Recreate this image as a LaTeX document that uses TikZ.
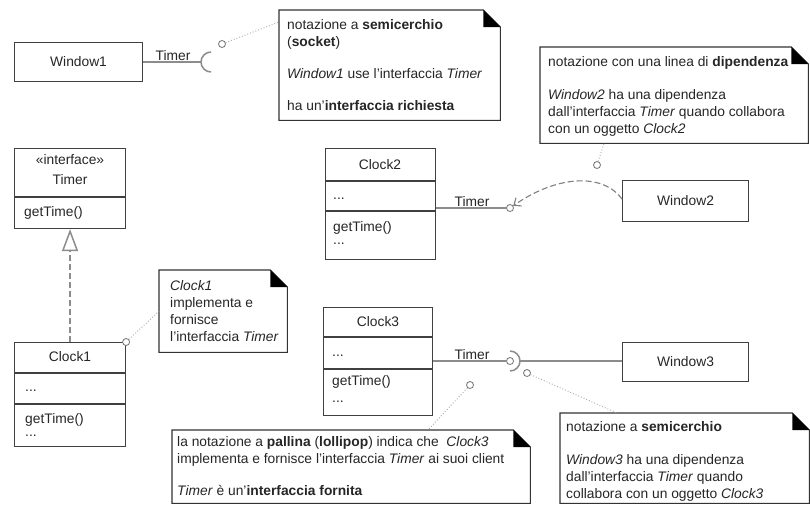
\documentclass[tikz,border=0pt]{standalone}
\usepackage{fontspec}
\setmainfont{Liberation Sans}
\usetikzlibrary{arrows.meta}
\newcommand\umlnotedraw[1]{%
  \draw[noteline] (#1.south west) -- (#1.north west) -- ([xshift=-17pt]#1.north east)
    -- ([yshift=-17pt]#1.north east) -- (#1.south east) -- cycle;
  \fill[black] ([xshift=-17pt]#1.north east) -- ([xshift=-17pt,yshift=-17pt]#1.north east)
    -- ([yshift=-17pt]#1.north east) -- cycle;}
\begin{document}
\begin{tikzpicture}[x=1pt,y=-1pt,
  every node/.style={font=\fontsize{13.8}{17}\selectfont, text=black!85, inner sep=0pt},
  box/.style={draw=black!75, line width=1.1pt, fill=white, anchor=north west},
  conn/.style={draw=black!45, line width=1.5pt},
  depconn/.style={draw=black!50, line width=1.1pt, dash pattern=on 6pt off 3pt},
  dotconn/.style={draw=black!35, line width=0.9pt, dotted},
  pin/.style={circle, draw=black!55, fill=white, line width=0.8pt, minimum size=7pt, inner sep=0pt},
  notebox/.style={anchor=north west, draw=none},
  noteline/.style={draw=black!80, line width=1.1pt, fill=white},
  notetext/.style={anchor=north west, align=left},
  divider/.style={draw=black!75, line width=1.1pt},
]
\fill[white] (0,0) rectangle (810,515);
\useasboundingbox (0,0) rectangle (810,515);

% ---------- Window1 with socket ----------
\node[box, minimum width=128pt, minimum height=39pt] (w1) at (14,42) {Window1};
\coordinate (s1) at (211,62);
\draw[conn] (w1.east |- s1) -- ([xshift=-10pt]s1);
\draw[conn] ([yshift=10pt]s1) arc[start angle=90, end angle=270, radius=10pt];
\node[anchor=base] (t1) at (173,60) {Timer};
\node[pin] (p0) at (222,44) {};

% note 1
\node[notebox, minimum width=221pt, minimum height=110pt] (n1) at (279,10) {};
\umlnotedraw{n1}
\node[notetext] (n1t) at (287,19) {notazione a \textbf{semicerchio}\\ (\textbf{socket})\\[15pt] \textit{Window1} use l'interfaccia \textit{Timer}\\[15pt] ha un'\textbf{interfaccia richiesta}};
\draw[dotconn] (p0) -- ([yshift=-12pt]n1.north west);

% ---------- Interface Timer ----------
\node[box, minimum width=111pt, minimum height=80pt] (ti) at (14,148) {};
\draw[divider] ([yshift=-49pt]ti.north west) -- ([yshift=-49pt]ti.north east);
\node (tist) at (70,160) {«interface»};
\node (tin) at (70,180) {Timer};
\node[anchor=west] (tiop) at (24,213) {getTime()};

% ---------- Clock1 ----------
\node[box, minimum width=111pt, minimum height=104pt] (c1) at (14,342) {};
\draw[divider] ([yshift=-31pt]c1.north west) -- ([yshift=-31pt]c1.north east);
\draw[divider] ([yshift=-62pt]c1.north west) -- ([yshift=-62pt]c1.north east);
\node (c1n) at (70,357) {Clock1};
\node[anchor=west] (c1a) at (25,391) {...};
\node[anchor=west] (c1o) at (25,420) {getTime()};
\node[anchor=west] (c1b) at (25,436) {...};
\draw[conn, dash pattern=on 6pt off 3pt, -{Triangle[open, length=22pt, width=16pt, fill=white]}] (c1.north) -- (ti.south);

% note 3
\node[pin] (p1) at (c1.north east) {};
\node[notebox, minimum width=128pt, minimum height=82pt] (n3) at (159,270) {};
\umlnotedraw{n3}
\node[notetext] (n3t) at (170,280) {\textit{Clock1}\\ implementa e\\ fornisce\\ l'interfaccia \textit{Timer}};
\draw[dotconn] (p1) -- (n3.west);

% ---------- Clock2 / Window2 ----------
\node[box, minimum width=110pt, minimum height=111pt] (c2) at (325,148) {};
\draw[divider] ([yshift=-33pt]c2.north west) -- ([yshift=-33pt]c2.north east);
\draw[divider] ([yshift=-63pt]c2.north west) -- ([yshift=-63pt]c2.north east);
\node (c2n) at (380,165) {Clock2};
\node[anchor=west] (c2a) at (333,199) {...};
\node[anchor=west] (c2o) at (333,228) {getTime()};
\node[anchor=west] (c2b) at (333,244) {...};
\node[pin] (p2) at (510,208) {};
\draw[conn] (c2.east |- p2) -- (p2);
\node[anchor=base] (t2) at (472,206) {Timer};

\node[box, minimum width=126pt, minimum height=41pt] (w2) at (622,180) {Window2};
\draw[depconn, -{Straight Barb[length=6pt, width=10pt]}] ([yshift=2pt]w2.west) .. controls (602,172) and (556,176) .. (p2);

% note 2
\node[notebox, minimum width=268pt, minimum height=96pt] (n2) at (540,47) {};
\umlnotedraw{n2}
\node[notetext] (n2t) at (548,56) {notazione con una linea di \textbf{dipendenza}\\[16pt] \textit{Window2} ha una dipendenza\\ dall'interfaccia \textit{Timer} quando collabora\\ con un oggetto \textit{Clock2}};
\node[pin] (p2n) at (597,165) {};
\draw[dotconn] (p2n) -- ([xshift=64pt]n2.south west);

% ---------- Clock3 / Window3 ----------
\node[box, minimum width=109pt, minimum height=108pt] (c3) at (323,307) {};
\draw[divider] ([yshift=-30pt]c3.north west) -- ([yshift=-30pt]c3.north east);
\draw[divider] ([yshift=-62pt]c3.north west) -- ([yshift=-62pt]c3.north east);
\node (c3n) at (378,322) {Clock3};
\node[anchor=west] (c3a) at (332,356) {...};
\node[anchor=west] (c3o) at (332,382) {getTime()};
\node[anchor=west] (c3b) at (332,402) {...};

\node[box, minimum width=126pt, minimum height=39pt] (w3) at (622,342) {Window3};
\node[pin] (p3) at (510,361) {};
\draw[conn] (c3.east |- p3) -- (p3);
\draw[conn] ([yshift=10pt]p3.center) arc[start angle=90, end angle=-90, radius=10pt];
\draw[conn] ([xshift=10pt]p3.center) -- (w3.west |- p3);
\node[anchor=base] (t3) at (472,359) {Timer};

% note 4
\node[notebox, minimum width=358pt, minimum height=73pt] (n4) at (172,430) {};
\umlnotedraw{n4}
\node[notetext] (n4t) at (177,436) {la notazione a \textbf{pallina} (\textbf{lollipop}) indica che\ \ \textit{Clock3}\\ implementa e fornisce l'interfaccia \textit{Timer} ai suoi client\\[15pt] \textit{Timer} è un'\textbf{interfaccia fornita}};
\node[pin] (p4) at (470,385) {};
\draw[dotconn] (p4) -- ([xshift=256pt]n4.north west);

% note 5
\node[notebox, minimum width=249pt, minimum height=90pt] (n5) at (560,413) {};
\umlnotedraw{n5}
\node[notetext] (n5t) at (566,421) {notazione a \textbf{semicerchio}\\[16pt] \textit{Window3} ha una dipendenza\\ dall'interfaccia \textit{Timer} quando\\ collabora con un oggetto \textit{Clock3}};
\node[pin] (p5) at (527,373) {};
\draw[dotconn] (p5) -- ([xshift=57pt]n5.north west);
\end{tikzpicture}
\end{document}
